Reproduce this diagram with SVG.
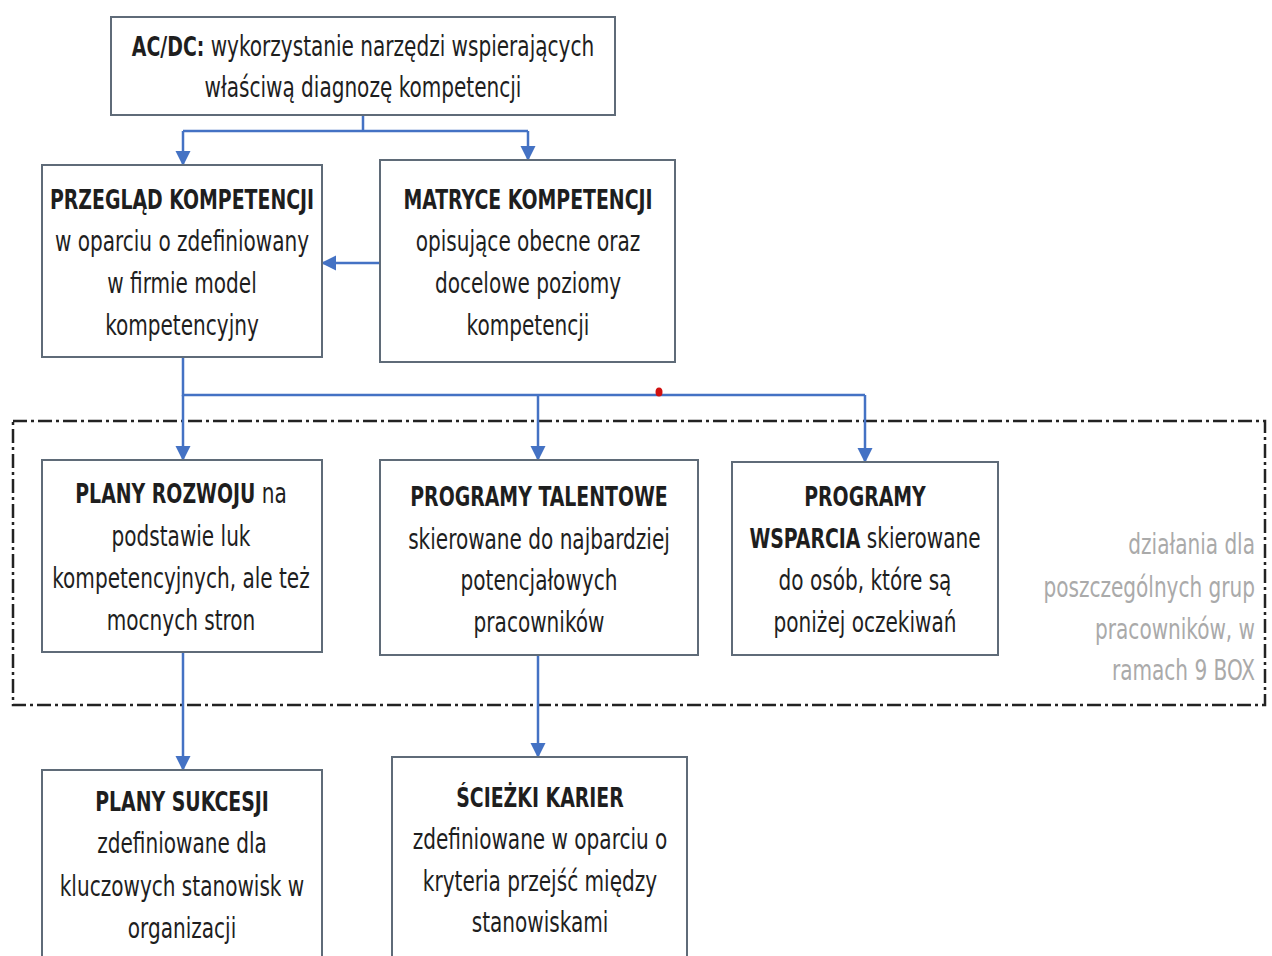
<svg xmlns="http://www.w3.org/2000/svg" width="1272" height="956" viewBox="0 0 1272 956">
<defs>
<marker id="ah" markerWidth="15" markerHeight="16" refX="14" refY="7.5" orient="auto" markerUnits="userSpaceOnUse">
<path d="M0,0 L15,7.5 L0,15 Z" fill="#4472C4"/>
</marker>
<style>
.box{fill:#fff;stroke:#5f6b78;stroke-width:2}
.t{font-family:"DejaVu Sans Condensed","Liberation Sans",sans-serif;font-size:22.3px;fill:#1e1e1e;text-anchor:middle}
.b{font-weight:bold;font-size:21px}
.g{fill:#aaaaaa;text-anchor:end}
.c{fill:none;stroke:#4472C4;stroke-width:2.5}
.ca{fill:none;stroke:#4472C4;stroke-width:2.5;marker-end:url(#ah)}
</style>
</defs>
<rect width="1272" height="956" fill="#fff"/>
<g id="group-9box">
<rect x="13" y="421" width="1252" height="284" fill="none" stroke="#222" stroke-width="2.5" stroke-dasharray="14,4,3,4"/>
<text class="t g" transform="translate(1255,554) scale(1,1.25)">działania dla</text>
<text class="t g" transform="translate(1255,597) scale(1,1.25)">poszczególnych grup</text>
<text class="t g" transform="translate(1255,639) scale(1,1.25)">pracowników, w</text>
<text class="t g" transform="translate(1255,680) scale(1,1.25)">ramach 9 BOX</text>
</g>
<g id="connectors">
<path class="c" d="M363,115 V131 M183,131 H528"/>
<path class="ca" d="M183,131 V165"/>
<path class="ca" d="M528,131 V160"/>
<path class="ca" d="M380,263 H322"/>
<path class="c" d="M183,357 V395 H865"/>
<path class="ca" d="M183,395 V460"/>
<path class="ca" d="M538,395 V460"/>
<path class="ca" d="M865,395 V462"/>
<path class="ca" d="M183,652 V770"/>
<path class="ca" d="M538,655 V757"/>
</g>
<ellipse cx="659" cy="392" rx="3.5" ry="4.5" fill="#d01010"/>
<g id="node-acdc">
<rect class="box" x="111" y="17" width="504" height="98"/>
<text class="t" transform="translate(363,56) scale(1,1.25)"><tspan class="b">AC/DC:</tspan> wykorzystanie narzędzi wspierających</text>
<text class="t" transform="translate(363,97) scale(1,1.25)">właściwą diagnozę kompetencji</text>
</g>
<g id="node-przeglad">
<rect class="box" x="42" y="165" width="280" height="192"/>
<text class="t b" transform="translate(182,209) scale(1,1.25)">PRZEGLĄD KOMPETENCJI</text>
<text class="t" transform="translate(182,251) scale(1,1.25)">w oparciu o zdefiniowany</text>
<text class="t" transform="translate(182,293) scale(1,1.25)">w firmie model</text>
<text class="t" transform="translate(182,335) scale(1,1.25)">kompetencyjny</text>
</g>
<g id="node-matryce">
<rect class="box" x="380" y="160" width="295" height="202"/>
<text class="t b" transform="translate(528,209) scale(1,1.25)">MATRYCE KOMPETENCJI</text>
<text class="t" transform="translate(528,251) scale(1,1.25)">opisujące obecne oraz</text>
<text class="t" transform="translate(528,293) scale(1,1.25)">docelowe poziomy</text>
<text class="t" transform="translate(528,335) scale(1,1.25)">kompetencji</text>
</g>
<g id="node-plany-rozwoju">
<rect class="box" x="42" y="460" width="280" height="192"/>
<text class="t" transform="translate(181,503) scale(1,1.25)"><tspan class="b">PLANY ROZWOJU</tspan> na</text>
<text class="t" transform="translate(181,546) scale(1,1.25)">podstawie luk</text>
<text class="t" transform="translate(181,588) scale(1,1.25)">kompetencyjnych, ale też</text>
<text class="t" transform="translate(181,630) scale(1,1.25)">mocnych stron</text>
</g>
<g id="node-talentowe">
<rect class="box" x="380" y="460" width="318" height="195"/>
<text class="t b" transform="translate(539,506) scale(1,1.25)">PROGRAMY TALENTOWE</text>
<text class="t" transform="translate(539,549) scale(1,1.25)">skierowane do najbardziej</text>
<text class="t" transform="translate(539,590) scale(1,1.25)">potencjałowych</text>
<text class="t" transform="translate(539,632) scale(1,1.25)">pracowników</text>
</g>
<g id="node-wsparcia">
<rect class="box" x="732" y="462" width="266" height="193"/>
<text class="t b" transform="translate(865,506) scale(1,1.25)">PROGRAMY</text>
<text class="t" transform="translate(865,548) scale(1,1.25)"><tspan class="b">WSPARCIA</tspan> skierowane</text>
<text class="t" transform="translate(865,590) scale(1,1.25)">do osób, które są</text>
<text class="t" transform="translate(865,632) scale(1,1.25)">poniżej oczekiwań</text>
</g>
<g id="node-sukcesji">
<rect class="box" x="42" y="770" width="280" height="200"/>
<text class="t b" transform="translate(182,811) scale(1,1.25)">PLANY SUKCESJI</text>
<text class="t" transform="translate(182,853) scale(1,1.25)">zdefiniowane dla</text>
<text class="t" transform="translate(182,896) scale(1,1.25)">kluczowych stanowisk w</text>
<text class="t" transform="translate(182,938) scale(1,1.25)">organizacji</text>
</g>
<g id="node-sciezki">
<rect class="box" x="392" y="757" width="295" height="213"/>
<text class="t b" transform="translate(540,807) scale(1,1.25)">ŚCIEŻKI KARIER</text>
<text class="t" transform="translate(540,849) scale(1,1.25)">zdefiniowane w oparciu o</text>
<text class="t" transform="translate(540,891) scale(1,1.25)">kryteria przejść między</text>
<text class="t" transform="translate(540,932) scale(1,1.25)">stanowiskami</text>
</g>
</svg>
